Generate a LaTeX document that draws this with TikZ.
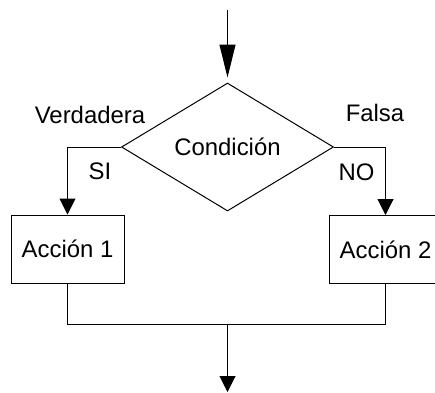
\documentclass[tikz,border=0pt]{standalone}
\usepackage{fontspec}
\setmainfont{Liberation Sans}
\usetikzlibrary{shapes.geometric,arrows.meta}
\begin{document}
\begin{tikzpicture}[x=1pt,y=-1pt,
  every node/.style={font=\fontsize{23.9}{28}\selectfont},
  conn/.style={line width=1pt,draw=black},
  flow/.style={conn,-{Triangle[length=16pt,width=16pt]}},
  accion/.style={draw=black,line width=1pt,rectangle,minimum width=113pt,minimum height=68pt,inner sep=0pt},
  decision/.style={draw=black,line width=1pt,diamond,minimum width=212pt,minimum height=128pt,inner sep=0pt},
  etiqueta/.style={anchor=base,inner sep=0pt}]
  \useasboundingbox (0,0) rectangle (435,392);
  \clip (0,0) rectangle (435,392);
  % decision and actions
  \node[decision] (cond) at (227.5,147) {Condición};
  \node[accion] (a1) at (67.5,249) {Acción 1};
  \node[accion] (a2) at (385.5,249.5) {Acción 2};
  % entry, merge and exit points
  \coordinate (start) at (227.5,10);
  \coordinate (merge) at (227.5,324);
  \coordinate (end) at (227.5,392);
  % connectors
  \draw[conn,-{Triangle[length=33pt,width=16pt]},shorten >=5pt] (start) -- (cond.north);
  \draw[flow] (cond.west) -| (a1.north);
  \draw[flow] (cond.east) -| (a2.north);
  \draw[conn] (a1.south) |- (merge) -| (a2.south);
  \draw[flow] (merge) -- (end);
  % branch labels
  \node[etiqueta] (ver) at (90,123) {Verdadera};
  \node[etiqueta] (si) at (100,179) {SI};
  \node[etiqueta] (fal) at (375,121) {Falsa};
  \node[etiqueta] (no) at (356.5,180) {NO};
\end{tikzpicture}
\end{document}
